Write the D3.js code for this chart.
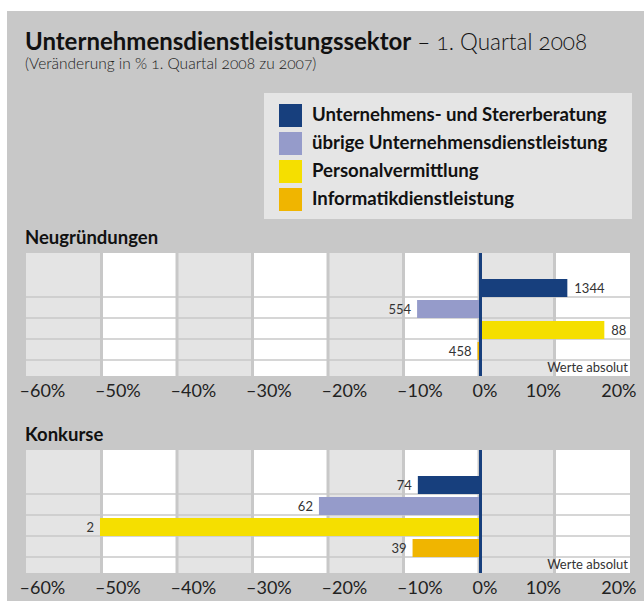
<!DOCTYPE html>
<html>
<head>
<meta charset="utf-8">
<script src="https://cdn.jsdelivr.net/npm/d3@7"></script>
<style>
  body { margin: 0; background: #fff; }
  svg { display: block; font-family: Lato, "Open Sans", sans-serif; }
</style>
</head>
<body>
<figure id="chart" style="margin:0"></figure>
<script>
// data
const categories = [
  'Unternehmens- und Stererberatung',
  'übrige Unternehmensdienstleistung',
  'Personalvermittlung',
  'Informatikdienstleistung'
];
const colors = ['#173f7d', '#959bca', '#f5df00', '#f0b500'];

// Veränderung in %
const neugruendungenPct = [11.7, -8.2, 16.6, -0.2];
const neugruendungenAbs = [1344, 554, 88, 458];
const konkursePct = [-8.1, -21.2, -50.2, -8.8];
const konkurseAbs = [74, 62, 2, 39];

const tickValues = [-60, -50, -40, -30, -20, -10, 0, 10, 20];

const width = 644;
const height = 601;

const svg = d3.select('figure#chart')
    .append('svg')
    .attr('width', width)
    .attr('height', height);

svg.append('rect')
    .attr('x', 7).attr('y', 11)
    .attr('width', width - 7).attr('height', height - 11)
    .attr('fill', '#c8c8c8');

// title
const title = svg.append('text')
    .attr('x', 25).attr('y', 50)
    .attr('font-size', 24)
    .attr('fill', '#111');
title.append('tspan').attr('font-weight', 700).text('Unternehmensdienstleistungssektor');
title.append('tspan').attr('font-weight', 300)
    .attr('font-size', 22.5)
    .style('font-variant-numeric', 'oldstyle-nums')
    .text(' – 1. Quartal 2008');

svg.append('text')
    .attr('x', 25).attr('y', 69)
    .attr('font-size', 15.5)
    .attr('font-weight', 300)
    .attr('fill', '#222')
    .style('font-variant-numeric', 'oldstyle-nums')
    .text('(Veränderung in %  1. Quartal 2008 zu 2007)');

// legend
const legend = svg.append('g').attr('transform', 'translate(264,93)');
legend.append('rect')
    .attr('width', 368).attr('height', 126)
    .attr('fill', '#e5e5e5');
const item = legend.selectAll('g.item')
    .data(categories)
    .enter()
    .append('g')
    .attr('transform', (d, i) => 'translate(15,' + (11 + i * 28) + ')');
item.append('rect')
    .attr('width', 23).attr('height', 23)
    .attr('fill', (d, i) => colors[i]);
item.append('text')
    .attr('x', 33).attr('y', 17)
    .attr('font-size', 18.6)
    .attr('font-weight', 700)
    .attr('fill', '#111')
    .text(d => d);

// x scale shared by both panels
const x = d3.scaleLinear().domain([-60, 20]).range([26, 630]);

function drawPanel(top, label, pct, abs) {
  const plotTop = top;
  const plotBottom = top + 123;
  const rowTop = top + 23;

  const y = d3.scaleBand()
      .domain(categories)
      .range([rowTop, rowTop + 84]);

  svg.append('text')
      .attr('x', 25).attr('y', plotTop - 9)
      .attr('font-size', 18.5)
      .attr('font-weight', 700)
      .attr('fill', '#111')
      .text(label);

  const g = svg.append('g');

  // alternating background bands, gaps show the grey page
  const bands = tickValues.slice(0, -1);
  g.selectAll('rect.band')
      .data(bands)
      .enter()
      .append('rect')
      .attr('x', d => (d === -60 ? x(d) : x(d) + 1.5))
      .attr('y', plotTop)
      .attr('width', d => x(d + 10) - x(d) - (d === -60 ? 1.5 : 3) + (d === 10 ? 1.5 : 0))
      .attr('height', plotBottom - plotTop)
      .attr('fill', (d, i) => (i % 2 === 0 ? '#e4e4e4' : '#ffffff'));

  // row lines
  g.selectAll('line.row')
      .data(categories)
      .enter()
      .append('line')
      .attr('x1', x(-60)).attr('x2', x(20))
      .attr('y1', d => y(d) + y.bandwidth())
      .attr('y2', d => y(d) + y.bandwidth())
      .attr('stroke', '#c8c8c8')
      .attr('stroke-width', 1.5);

  // bars
  g.selectAll('rect.bar')
      .data(pct)
      .enter()
      .append('rect')
      .attr('x', d => x(Math.min(0, d)))
      .attr('y', (d, i) => y(categories[i]) + 3)
      .attr('width', d => Math.abs(x(d) - x(0)))
      .attr('height', y.bandwidth() - 3)
      .attr('fill', (d, i) => colors[i]);

  // absolute values
  g.selectAll('text.val')
      .data(pct)
      .enter()
      .append('text')
      .attr('x', d => (d >= 0 ? x(d) + 7 : x(d) - 6))
      .attr('y', (d, i) => y(categories[i]) + 3 + (y.bandwidth() - 3) / 2)
      .attr('dy', '0.36em')
      .attr('text-anchor', d => (d >= 0 ? 'start' : 'end'))
      .attr('font-size', 13)
      .attr('fill', '#333')
      .text((d, i) => abs[i]);

  // zero line
  g.append('line')
      .attr('x1', x(0) + 1.5).attr('x2', x(0) + 1.5)
      .attr('y1', plotTop).attr('y2', plotBottom)
      .attr('stroke', '#173f7d')
      .attr('stroke-width', 3);

  g.append('text')
      .attr('x', 628).attr('y', plotBottom - 4)
      .attr('text-anchor', 'end')
      .attr('font-size', 13)
      .attr('font-weight', 400)
      .attr('fill', '#333')
      .text('Werte absolut');

  // axis
  const axis = svg.append('g')
      .attr('transform', 'translate(0,' + plotBottom + ')')
      .call(d3.axisBottom(x)
          .tickValues(tickValues)
          .tickSize(0)
          .tickFormat(d => (d < 0 ? '–' : '') + Math.abs(d) + '%'));
  axis.select('.domain').remove();
  axis.selectAll('text')
      .attr('font-family', 'Lato, "Open Sans", sans-serif')
      .attr('font-size', 18)
      .attr('font-weight', 400)
      .attr('fill', '#222')
      .attr('dy', null)
      .attr('y', 21)
      .attr('text-anchor', d => (d > 0 ? 'end' : 'start'))
      .attr('x', d => (d > 0 ? 6 : -7));
}

drawPanel(253, 'Neugründungen', neugruendungenPct, neugruendungenAbs);
drawPanel(450, 'Konkurse', konkursePct, konkurseAbs);
</script>
</body>
</html>
